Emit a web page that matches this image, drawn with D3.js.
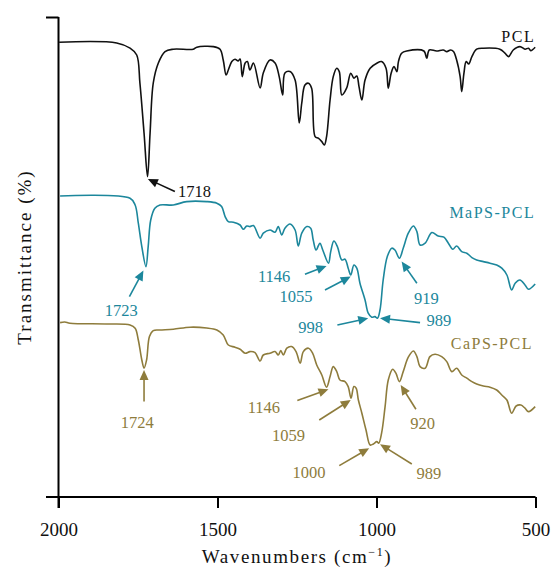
<!DOCTYPE html>
<html><head><meta charset="utf-8">
<script src="https://cdn.jsdelivr.net/npm/d3@7"></script>
<style>body{margin:0;background:#fff}svg{display:block}text{font-family:"Liberation Serif","Times New Roman",serif}</style>
</head><body><svg id="c" width="552" height="572"></svg>
<script>
// ---- data (wavenumber cm^-1, transmittance offset units) ----
const xTicks = [2000, 1500, 1000, 500];
const seriesNames = ["PCL", "MaPS-PCL", "CaPS-PCL"];
const seriesColors = ["#111111", "#1c879c", "#8e7c3c"];

const pclWave = [1998,1817,1775,1754,1744,1731,1720,1712,1702,1686,1665,1639,1576,1565,1513,1492,1482,1473,1466,1455,1445,1435,1429,1422,1413,1406,1398,1387,1366,1356,1335,1319,1306,1295,1288,1272,1256,1243,1235,1225,1214,1204,1193,1183,1172,1164,1157,1146,1136,1125,1117,1109,1094,1081,1071,1062,1055,1046,1036,1020,999,984,970,963,954,945,936,931,921,905,851,842,834,811,790,779,767,758,748,737,732,725,718,710,700,685,664,612,596,585,570,549,533,522,515,501];
const pclT = [227.4,227,224.4,221,207,182,160.2,182,207,217,222.7,223.9,223.9,224.9,225.2,223.9,218.5,211,213.5,217.7,218.9,218,219,210.2,217,217.7,213.5,217,204.5,212,218.5,217,210.2,201,212,212.7,208.5,187,197,206,206.9,204.4,180.2,179.4,177.7,176,180.2,198.5,210.2,214.4,212.7,201,204.4,211.9,209.4,210.5,205.2,198.5,208.5,214.4,216.9,217.7,214.4,204.4,211.9,215.2,212.7,217.7,221.9,223,223,219.4,223.5,223,223.5,222.7,223.5,222.7,218.5,210.2,202.7,211.9,217.7,216.5,220.2,223.9,224.4,223.9,221.9,220.2,223.5,225.2,223.9,224.4,223.2,224.9];

const mapsWave = [1995,1775,1759,1749,1738,1725,1718,1710,1697,1681,1639,1597,1534,1502,1487,1476,1466,1450,1429,1419,1408,1398,1387,1366,1356,1335,1319,1309,1298,1288,1272,1256,1246,1235,1219,1207,1199,1190,1178,1169,1151,1144,1134,1123,1109,1099,1089,1081,1071,1062,1052,1036,1026,1015,1005,997,989,979,966,952,942,928,916,900,884,873,863,847,826,806,788,774,760,748,732,716,700,685,664,643,622,606,590,575,564,549,533,522,501];
const mapsT = [150.5,149.4,146,136.9,125.2,115.2,125.2,138.5,144.4,146,146,147.7,147.7,146.9,145.2,140.2,137.7,137.4,136,133.9,135.5,135.2,135.7,129.4,131.9,133.5,132.4,135.2,131,134.4,136.5,133.5,125.5,131.9,135.2,134.4,128.5,123.5,126.9,123.5,116.9,122.7,128,125.2,118.5,118.9,114.4,111,116,114.4,106.9,98.5,91.9,89.9,90.2,89.4,93.5,108.5,120.2,124.4,123.5,119.4,124.4,131.9,135.5,132.7,126,126.9,132.2,130.5,129.9,126.9,123.9,125.5,122.7,121.9,119.7,118.5,117.7,116.9,116,114.4,111,103.5,106.9,108.5,106,103.9,106.5];

const capsWave = [1995,1980,1964,1848,1775,1759,1749,1738,1731,1723,1714,1702,1681,1639,1586,1534,1502,1482,1466,1445,1429,1413,1398,1382,1366,1356,1335,1319,1309,1301,1293,1282,1267,1253,1240,1230,1214,1201,1188,1172,1157,1146,1136,1125,1115,1099,1089,1080,1071,1064,1057,1046,1033,1020,1010,999,993,984,973,963,949,939,928,916,900,884,873,863,847,832,816,795,779,763,748,732,716,700,685,664,643,622,606,590,575,561,546,533,522,501];
const capsT = [87.2,87.5,86.9,86.5,86,84.4,78.5,68.5,64.4,68.5,80.2,83.2,83.5,83.9,84.9,84.5,83.5,81,76,74.9,73.9,71.9,72.7,72.2,68,71,71.9,72.7,71,73.2,71,74.4,75.2,72.7,66.9,72.7,74.4,71.9,66,61,54.9,60.2,65.2,62.7,58.5,57.7,55.2,49.4,55.2,54.4,48.5,41.9,33.5,26,26.5,27.7,26.9,31.9,45.2,58.5,63.9,61.9,57.7,62.7,69.9,73,70.2,65.2,64.4,70.2,71.4,70.2,67.7,62.7,64.4,61,59.4,57.7,56.5,55.5,54.9,53.5,51,48.5,41.9,45.5,46,44.4,42.7,45.2];

// series name label positions [wavenumber, value]
const nameWave = [501, 501, 508];
const nameT = [227.7, 139.5, 74];

// peak annotations: label, series index, text pos, arrow tail, arrow tip
const annLabel = ["1718","1723","1146","1055","998","989","919","1724","1146","1059","1000","989","920"];
const annSeries = [0,1,1,1,1,1,1,2,2,2,2,2,2];
const annTextW = [1624,1803,1322,1253,1207,804,843,1752,1354,1277,1212,835,855];
const annTextT = [150,90.5,107.7,97.5,82,85.5,96.5,34.5,42,28,9.5,9,34];
const annTextAnchor = ["start","middle","middle","middle","middle","middle","middle","middle","middle","middle","middle","middle","middle"];
const annTailW = [1634,1777,1225,1162,1123,863,873,1731,1249,1180,1117,889,876];
const annTailT = [152.7,100.2,111.4,103.5,86,87.2,106.9,47.7,48.2,38.5,15.7,16.5,43.9];
const annTipW = [1719,1733,1157,1081,1026,989,921,1731,1151,1081,1023,989,924];
const annTipT = [159,113.2,115.5,110.2,89.4,89.4,117.7,63.5,53.9,48.5,24.4,26.4,56];

// ---- drawing ----
const svg = d3.select("#c");
const x = d3.scaleLinear().domain([2000, 500]).range([58.5, 535.5]);
const y = d3.scaleLinear().domain([0, 240]).range([497, 17]);

// axes
const xAxis = d3.axisBottom(x).tickValues(xTicks).tickSize(11).tickSizeOuter(0).tickPadding(15).tickFormat(d3.format("d"));
const gx = svg.append("g").attr("transform", `translate(0,${y(0)})`).call(xAxis);
gx.select(".domain").attr("stroke-width", 2).attr("d", `M${x(2000)-12.5},0H${x(500)}`);
gx.selectAll(".tick line").attr("stroke-width", 2);
gx.selectAll(".tick text").attr("font-size", 19).attr("fill", "#111").attr("font-family", '"Liberation Serif",serif');

const yAxis = d3.axisLeft(y).tickValues([240]).tickSize(12.5).tickSizeOuter(0).tickFormat("");
const gy = svg.append("g").attr("transform", `translate(${x(2000)},0)`).call(yAxis);
gy.select(".domain").attr("stroke-width", 2).attr("d", `M0,${y(240)}V${y(0)+11}`);
gy.selectAll(".tick line").attr("stroke-width", 2);

// axis titles
const xt = svg.append("text").attr("x", 297).attr("y", 563).attr("text-anchor", "middle")
  .attr("font-size", 19).attr("letter-spacing", "1.6px").attr("fill", "#111");
xt.append("tspan").text("Wavenumbers (cm");
xt.append("tspan").attr("dy", -7).attr("font-size", 12).text("\u22121");
xt.append("tspan").attr("dy", 7).text(")");

svg.append("text").attr("transform", "translate(31,257) rotate(-90)").attr("text-anchor", "middle")
  .attr("font-size", 19).attr("letter-spacing", "2px").attr("fill", "#111").text("Transmittance (%)");

// spectra
const waves = [pclWave, mapsWave, capsWave];
const vals = [pclT, mapsT, capsT];
const line = d3.line().x(d => x(d[0])).y(d => y(d[1])).curve(d3.curveCatmullRom.alpha(0.5));
waves.forEach((w, i) => {
  svg.append("path").datum(w.map((v, j) => [v, vals[i][j]]))
    .attr("d", line).attr("fill", "none").attr("stroke", seriesColors[i])
    .attr("stroke-width", 1.6).attr("stroke-linejoin", "round");
  svg.append("text").attr("x", x(nameWave[i])).attr("y", y(nameT[i])).attr("text-anchor", "end")
    .attr("font-size", 16).attr("letter-spacing", "1.5px").attr("fill", seriesColors[i]).text(seriesNames[i]);
});

// annotations
annLabel.forEach((lab, i) => {
  const c = seriesColors[annSeries[i]];
  svg.append("text").attr("x", x(annTextW[i])).attr("y", y(annTextT[i]))
    .attr("text-anchor", annTextAnchor[i]).attr("font-size", 16.5).attr("fill", c).text(lab);
  const x1 = x(annTailW[i]), y1 = y(annTailT[i]), x2 = x(annTipW[i]), y2 = y(annTipT[i]);
  const dx = x2 - x1, dy = y2 - y1, L = Math.hypot(dx, dy), ux = dx / L, uy = dy / L;
  const hl = 10, hw = 4.5;
  const bx = x2 - ux * hl, by = y2 - uy * hl;
  svg.append("line").attr("x1", x1).attr("y1", y1).attr("x2", bx + ux * 2).attr("y2", by + uy * 2)
    .attr("stroke", c).attr("stroke-width", 1.6);
  svg.append("path").attr("d", `M${x2},${y2}L${bx - uy * hw},${by + ux * hw}L${bx + uy * hw},${by - ux * hw}Z`)
    .attr("fill", c);
});
</script></body></html>
